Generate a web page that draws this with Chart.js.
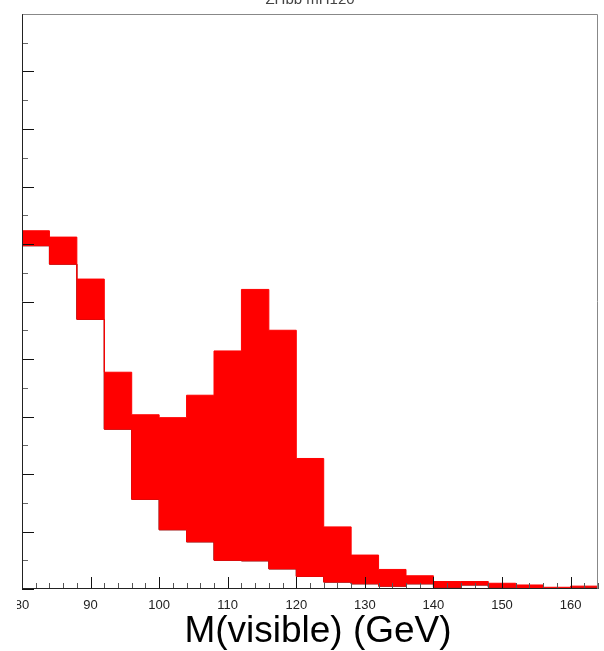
<!DOCTYPE html>
<html>
<head>
<meta charset="utf-8">
<script src="https://cdn.jsdelivr.net/npm/chart.js@4/dist/chart.umd.min.js"></script>
<style>
  html, body { margin: 0; padding: 0; background: #fff; }
  #wrap { width: 604px; height: 651px; position: relative; }
</style>
</head>
<body>
<div id="wrap"><canvas id="mvis-chart" width="604" height="651"></canvas></div>
<script>
// M(visible) histogram, bins of 4 GeV; red band = low/high envelope per bin
const binLowEdges = [80, 84, 88, 92, 96, 100, 104, 108, 112, 116, 120, 124, 128, 132, 136, 140, 144, 148, 152, 156, 160];
const histEnd = 164;
const bandHigh = [6.23, 6.12, 5.39, 3.77, 3.03, 2.98, 3.37, 4.14, 5.21, 4.50, 2.27, 1.08, 0.59, 0.34, 0.23, 0.13, 0.13, 0.10, 0.07, 0.03, 0.05];
const bandLow  = [5.97, 5.65, 4.69, 2.78, 1.56, 1.03, 0.82, 0.50, 0.49, 0.35, 0.22, 0.12, 0.09, 0.05, 0.09, 0.03, 0.07, 0.03, 0.01, 0.00, 0.03];
const nominal  = [5.97, 5.65, 4.69, 2.78, 1.56, 1.03, 0.82, 0.50, 0.49, 0.35, 0.22, 0.12, 0.09, 0.05, 0.09, 0.03, 0.07, 0.03, 0.01, 0.00, 0.03];
const xTickLabels = [80, 90, 100, 110, 120, 130, 140, 150, 160];
const histTitle = 'ZHbb mH120';
const xTitle = 'M(visible) (GeV)';

// one point per lower edge plus the closing edge; 'before' stepping
// (horizontal first) holds each value across its own bin
function stepPoints(values) {
    const pts = binLowEdges.map((x, i) => ({ x: x, y: values[i] }));
    pts.push({ x: histEnd, y: values[values.length - 1] });
    return pts;
}

// ROOT-style frame with inward ticks, axis title and the clipped title line
const rootFrame = {
    id: 'rootFrame',
    afterDatasetsDraw(chart) {
        const { ctx, chartArea: a, scales: { x, y } } = chart;
        ctx.save();
        ctx.lineWidth = 1;

        // x ticks: minor every 2, major every 10
        for (let v = x.min; v <= x.max; v += 2) {
            const px = Math.round(x.getPixelForValue(v)) + 0.5;
            const major = v % 10 === 0;
            ctx.strokeStyle = major ? '#111' : '#555';
            ctx.beginPath();
            ctx.moveTo(px, a.bottom);
            ctx.lineTo(px, a.bottom - (major ? 12 : 6));
            ctx.stroke();
        }
        // y ticks: minor every 0.5, major every 1
        for (let v = y.min; v <= y.max; v += 0.5) {
            const py = Math.round(y.getPixelForValue(v)) + 0.5;
            const major = v % 1 === 0;
            ctx.strokeStyle = major ? '#111' : '#666';
            ctx.beginPath();
            ctx.moveTo(a.left, py);
            ctx.lineTo(a.left + (major ? 12 : 6), py);
            ctx.stroke();
        }

        const l = Math.round(a.left) + 0.5, r = Math.round(a.right) - 0.5;
        const t = Math.round(a.top) + 0.5, b = Math.round(a.bottom) - 0.5;
        ctx.strokeStyle = '#888';
        ctx.beginPath();
        ctx.moveTo(l, t); ctx.lineTo(r, t); ctx.lineTo(r, b);
        ctx.stroke();
        ctx.strokeStyle = '#222';
        ctx.beginPath();
        ctx.moveTo(l, t); ctx.lineTo(l, b); ctx.lineTo(r, b);
        ctx.stroke();

        // axis title, set a little right of the frame centre
        ctx.fillStyle = '#000';
        ctx.font = '37px "Liberation Sans", Arial, sans-serif';
        ctx.textAlign = 'center';
        ctx.textBaseline = 'alphabetic';
        ctx.fillText(xTitle, (a.left + a.right) / 2 + 8, 642);

        // title sits above the canvas edge, only its lower part shows
        ctx.fillStyle = '#444';
        ctx.font = '15px "Liberation Sans", Arial, sans-serif';
        ctx.fillText(histTitle, 310, 4);

        // left edge of the first label is cut off
        ctx.fillStyle = '#fff';
        ctx.fillRect(0, a.bottom + 3, 17, 24);
        ctx.restore();
    }
};

const ctx = document.getElementById('mvis-chart').getContext('2d');

const mvisChart = new Chart(ctx, {
    type: 'line',
    data: {
        datasets: [
            {
                label: 'band low',
                data: stepPoints(bandLow),
                stepped: 'before',
                borderColor: '#ff0000',
                borderWidth: 1,
                pointRadius: 0,
                fill: false,
                order: 1,
            },
            {
                label: 'band high',
                data: stepPoints(bandHigh),
                stepped: 'before',
                borderColor: '#ff0000',
                backgroundColor: '#ff0000',
                borderWidth: 1,
                pointRadius: 0,
                fill: 0,
                order: 1,
            },
            {
                label: 'nominal',
                data: stepPoints(nominal),
                stepped: 'before',
                borderColor: '#000',
                borderWidth: 1,
                pointRadius: 0,
                fill: false,
                order: 2,
            }
        ]
    },
    plugins: [rootFrame],
    options: {
        responsive: false,
        animation: false,
        layout: {
            padding: { top: 14, right: 6, left: 0, bottom: 0 }
        },
        plugins: {
            legend: { display: false },
            tooltip: { enabled: false }
        },
        scales: {
            x: {
                type: 'linear',
                min: 80,
                max: histEnd,
                grid: { display: false },
                border: { display: false },
                afterBuildTicks: (scale) => {
                    scale.ticks = xTickLabels.map(v => ({ value: v }));
                },
                afterFit: (scale) => { scale.height = 62; },
                ticks: {
                    padding: 1,
                    maxRotation: 0,
                    autoSkip: false,
                    color: '#222',
                    font: { family: '"Liberation Sans", Arial, sans-serif', size: 13 }
                }
            },
            y: {
                type: 'linear',
                min: 0,
                max: 10,
                grid: { display: false },
                border: { display: false },
                ticks: { display: false },
                afterFit: (scale) => { scale.width = 22; }
            }
        }
    }
});
</script>
</body>
</html>
